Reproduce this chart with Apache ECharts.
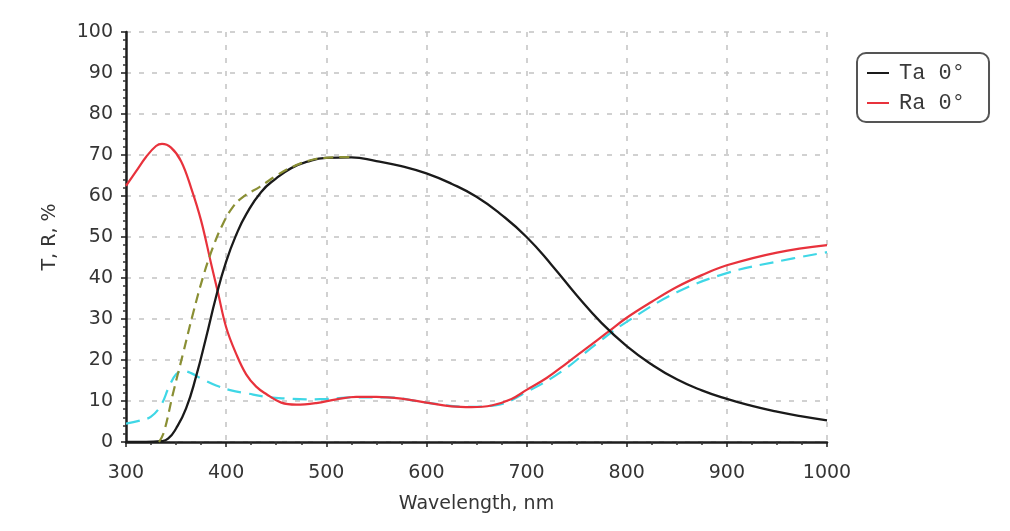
<!DOCTYPE html>
<html>
<head>
<meta charset="utf-8">
<script src="https://cdn.jsdelivr.net/npm/echarts@6/dist/echarts.min.js"></script>
<style>
  html, body { margin: 0; padding: 0; background: #ffffff; }
  #chart { width: 1010px; height: 531px; }
</style>
</head>
<body>
<div id="chart"></div>
<script>
// Transmittance Ta at normal incidence (solid black)
var taWavelength = [300, 320, 335, 342, 350, 360, 370, 380, 390, 400, 410, 420, 435, 450, 465, 480, 500, 525, 550, 575, 600, 625, 650, 675, 700, 725, 750, 775, 800, 825, 850, 875, 900, 925, 950, 975, 1000];
var taValues     = [0, 0, 0.2, 0.8, 3.3, 8.2, 16, 25.5, 35.5, 44, 50.5, 55.5, 61, 64.3, 66.8, 68.3, 69.3, 69.4, 68.5, 67.3, 65.5, 63, 59.8, 55.4, 50, 43.2, 35.8, 29, 23.4, 18.9, 15.3, 12.6, 10.5, 8.8, 7.4, 6.25, 5.3];

// Reflectance Ra at normal incidence (solid red)
var raWavelength = [300, 310, 320, 330, 336, 345, 355, 365, 375, 385, 392, 400, 410, 420, 430, 440, 455, 470, 490, 510, 530, 550, 575, 600, 625, 645, 665, 685, 700, 720, 740, 760, 780, 800, 825, 850, 875, 900, 950, 1000];
var raValues     = [62.5, 66, 69.5, 72.2, 72.7, 71.8, 68.5, 62, 54, 43.5, 36.3, 28, 21.5, 16.5, 13.5, 11.7, 9.6, 9.1, 9.5, 10.4, 11, 11, 10.6, 9.6, 8.7, 8.5, 8.9, 10.5, 12.7, 15.6, 19.2, 22.9, 26.6, 30.3, 34.2, 37.8, 40.7, 43.1, 46.2, 48];

// Reference reflectance (dashed cyan)
var rRefWavelength = [300, 315, 325, 335, 343, 350, 357, 365, 375, 390, 405, 420, 440, 460, 480, 500, 530, 560, 600, 640, 670, 700, 735, 770, 800, 850, 900, 950, 1000];
var rRefValues     = [4.5, 5.3, 6.2, 9, 13.5, 16.5, 17.3, 16.8, 15.5, 13.8, 12.6, 11.9, 11, 10.6, 10.4, 10.5, 10.9, 10.9, 9.6, 8.6, 9, 12.2, 17.2, 24, 29.3, 36.5, 41.2, 44, 46.3];

// Reference transmittance (dashed olive)
var tRefWavelength = [333, 338, 347, 357, 367, 377, 387, 397, 407, 417, 434, 451, 467, 487, 507, 525];
var tRefValues     = [0, 2.5, 11.9, 21.6, 31.4, 40.3, 47.6, 53.3, 57.4, 59.8, 62.3, 65.1, 67.2, 68.9, 69.4, 69.5];

// Axis ranges and legend names
var xMin = 300, xMax = 1000, xStep = 100;
var yMin = 0, yMax = 100, yStep = 10;
var legendNames = ['Ta 0°', 'Ra 0°'];

function pairs(xs, ys) {
  return xs.map(function (x, i) { return [x, ys[i]]; });
}

var labelFont = { color: '#353535', fontSize: 19, fontFamily: 'DejaVu Sans' };
var gridLine = { show: true, lineStyle: { color: '#c2c2c2', width: 1.5, type: [5, 8] } };

var chart = echarts.init(document.getElementById('chart'), null, { renderer: 'canvas' });
chart.setOption({
  backgroundColor: '#ffffff',
  animation: false,
  grid: { left: 126, right: 183, top: 32, bottom: 89, containLabel: false },
  legend: {
    data: legendNames,
    orient: 'vertical',
    left: 857,
    top: 53,
    icon: 'rect',
    itemWidth: 22,
    itemHeight: 2,
    itemGap: 8,
    padding: [9, 24, 8, 10],
    borderColor: '#555555',
    borderWidth: 2,
    borderRadius: 9,
    textStyle: { fontFamily: 'Liberation Mono', fontSize: 22, color: '#3a3a3a', lineHeight: 21, padding: [0, 0, 0, 5] }
  },
  xAxis: {
    type: 'value',
    min: xMin, max: xMax, interval: xStep,
    name: 'Wavelength, nm',
    nameLocation: 'middle',
    nameGap: 53,
    nameTextStyle: labelFont,
    axisLine: { show: true, onZero: false, lineStyle: { color: '#1e1e1e', width: 2.5 } },
    axisTick: { show: true, length: 5, lineStyle: { color: '#1e1e1e', width: 1.5 } },
    minorTick: { show: true, splitNumber: 4, length: 3, lineStyle: { color: '#333', width: 1.5 } },
    axisLabel: Object.assign({ margin: 22, formatter: function (v) { return String(v); } }, labelFont),
    splitLine: gridLine
  },
  yAxis: {
    type: 'value',
    min: yMin, max: yMax, interval: yStep,
    name: 'T, R, %',
    nameLocation: 'middle',
    nameGap: 66,
    nameRotate: 90,
    nameTextStyle: labelFont,
    axisLine: { show: true, onZero: false, lineStyle: { color: '#1e1e1e', width: 2.5 } },
    axisTick: { show: true, length: 5, lineStyle: { color: '#1e1e1e', width: 1.5 } },
    minorTick: { show: true, splitNumber: 5, length: 3, lineStyle: { color: '#333', width: 1.5 } },
    axisLabel: Object.assign({ margin: 13 }, labelFont),
    splitLine: gridLine
  },
  series: [
    {
      name: 'R ref', type: 'line', data: pairs(rRefWavelength, rRefValues),
      smooth: 0.4, showSymbol: false, z: 2,
      lineStyle: { color: '#3fd7e6', width: 2.2, type: [14, 8] }
    },
    {
      name: legendNames[1], type: 'line', data: pairs(raWavelength, raValues),
      smooth: 0.4, showSymbol: false, z: 3,
      itemStyle: { color: '#e8323c' },
      lineStyle: { color: '#e8323c', width: 2.2 }
    },
    {
      name: legendNames[0], type: 'line', data: pairs(taWavelength, taValues),
      smooth: 0.5, showSymbol: false, z: 4,
      itemStyle: { color: '#1a1a1a' },
      lineStyle: { color: '#1a1a1a', width: 2.3 }
    },
    {
      name: 'T ref', type: 'line', data: pairs(tRefWavelength, tRefValues),
      smooth: 0.4, showSymbol: false, z: 5,
      lineStyle: { color: '#8a8f34', width: 2.2, type: [10, 6] }
    }
  ]
});
</script>
</body>
</html>
